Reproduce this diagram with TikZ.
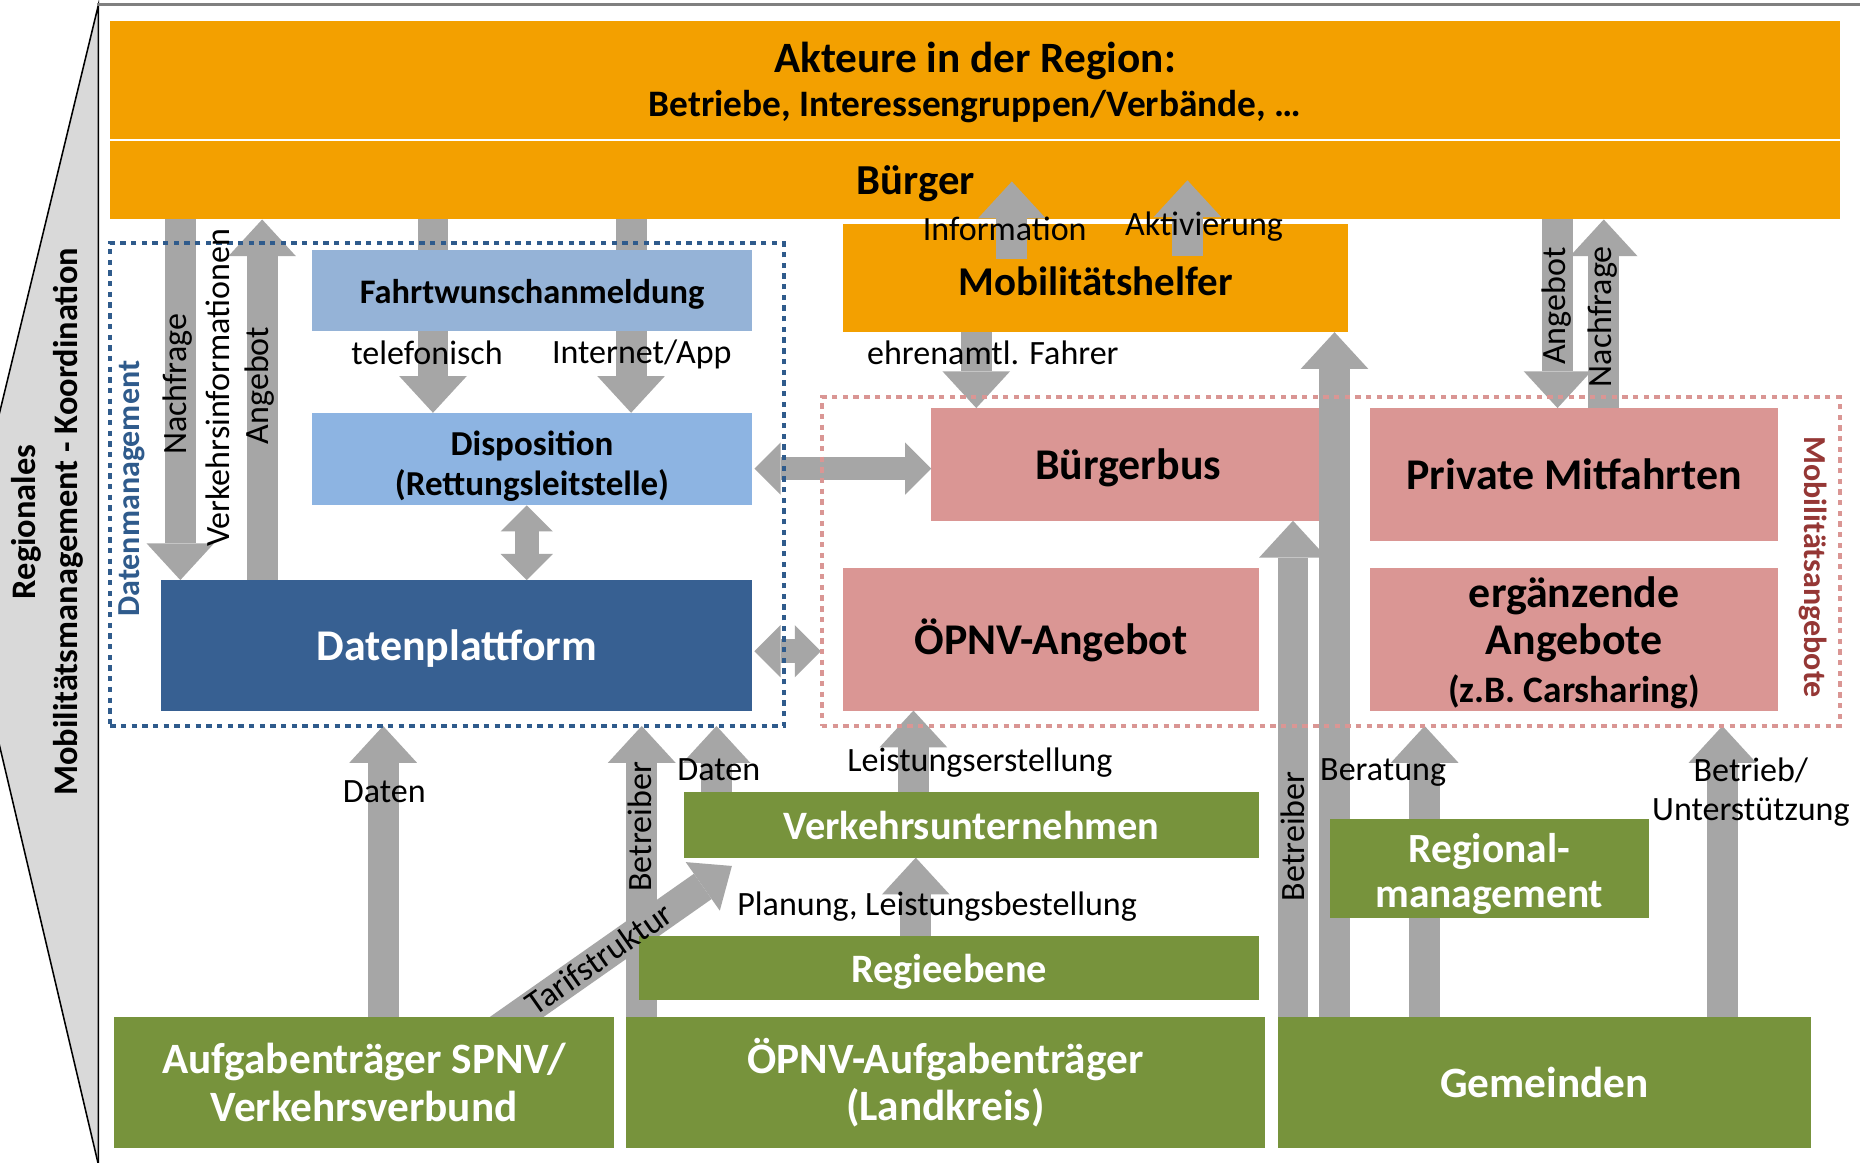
\documentclass[tikz,border=0pt]{standalone}
\usepackage{fontspec}
\setmainfont{Carlito}
\usetikzlibrary{arrows.meta,calc}
\pgfdeclarelayer{fg}
\pgfsetlayers{main,fg}
\definecolor{orng}{HTML}{F3A000}
\definecolor{lblueA}{HTML}{95B3D7}
\definecolor{lblueB}{HTML}{8DB4E2}
\definecolor{dblue}{HTML}{376092}
\definecolor{pinkc}{HTML}{DA9694}
\definecolor{greenc}{HTML}{77933C}
\definecolor{agray}{HTML}{A6A6A6}
\definecolor{dotblue}{HTML}{2F5B8C}
\definecolor{dotpink}{HTML}{DA9694}
\definecolor{darkred}{HTML}{953735}
\definecolor{sidegray}{HTML}{D9D9D9}
\definecolor{framegray}{HTML}{808080}
\begin{document}
\begin{tikzpicture}[x=1pt,y=-1pt,
  box/.style={rectangle,inner sep=0pt,outer sep=0pt,anchor=north west,align=center},
  wh/.style 2 args={minimum width=#1pt,minimum height=#2pt},
  fb/.style 2 args={font=\fontsize{#1}{#2}\selectfont\bfseries},
  lbl/.style={inner sep=0pt,font=\fontsize{28.7}{33}\selectfont},
  barrow/.style={draw=agray,line width=26pt,-{Triangle[width=57pt,length=31pt,line width=0pt]}},
  darrow/.style={draw=agray,line width=20pt,{Triangle[width=44pt,length=22pt,line width=0pt]}-{Triangle[width=44pt,length=22pt,line width=0pt]}},
  dotbox/.style={rectangle,inner sep=0pt,outer sep=0pt,anchor=north west,line width=3.5pt,dash pattern=on 4.5pt off 4.5pt}
]
\useasboundingbox (0,0) rectangle (1568,980);
\fill[white] (0,0) rectangle (1568,980);

% left side frame
\fill[sidegray] (83,4) -- (-5,367) -- (-5,609) -- (83,980) -- cycle;
\draw[line width=1.3pt] (-5,367) -- (83,4) -- (83,982);
\draw[line width=1.3pt] (-5,609) -- (83,982);
\draw[framegray,line width=2.5pt] (82,4) -- (1570,4);

% x positions of the arrows
\coordinate (cNf) at (152,0);
\coordinate (cAg) at (221,0);
\coordinate (cTel) at (365,0);
\coordinate (cWeb) at (532,0);
\coordinate (cDD) at (444,0);
\coordinate (cInfo) at (853,0);
\coordinate (cAkt) at (1001,0);
\coordinate (cEhr) at (823,0);
\coordinate (cAgR) at (1313,0);
\coordinate (cNfR) at (1352,0);
\coordinate (cDat) at (323,0);
\coordinate (cTar) at (436,0);
\coordinate (cBtr) at (541,0);
\coordinate (cDat2) at (604,0);
\coordinate (cLst) at (770,0);
\coordinate (cPlan) at (772,0);
\coordinate (cBtrR) at (1090,0);
\coordinate (cMh) at (1125,0);
\coordinate (cBer) at (1201,0);
\coordinate (cUnt) at (1452,0);
\coordinate (tarifend) at (617,730);

% boxes below the arrows
\node[box,wh={1458}{99},fill=orng] (akt) at (93,18) {};
\node[inner sep=0pt,fb={36.5}{40}] (akttitle) at (822,51) {Akteure in der Region:};
\node[inner sep=0pt,fb={31.5}{36}] (aktsub) at (822,90) {Betriebe, Interessengruppen/Verbände, …};
\node[box,wh={1458}{66},fill=orng] (bue) at (93,119) {};
\node[inner sep=0pt,fb={36}{40}] (buetxt) at (772,155) {Bürger};
\node[box,wh={425}{91},fill=orng,fb={34.5}{40}] (mh) at (711,189) {\rule{0pt}{30pt}Mobilitätshelfer};
\node[box,wh={371}{78},fill=lblueB,fb={29.5}{34}] (dispo) at (263,348) {\rule{0pt}{33pt}Disposition\\(Rettungsleitstelle)};
\node[box,wh={498}{110},fill=dblue,text=white,fb={37}{40}] (dp) at (136,489) {\rule{0pt}{32pt}Datenplattform};
\node[box,wh={332}{95},fill=pinkc,fb={37}{40}] (bb) at (785,344) {\rule{0pt}{32pt}Bürgerbus};
\node[box,wh={344}{112},fill=pinkc,fb={37}{40}] (pm) at (1155,344) {Private Mitfahrten};
\node[box,wh={350}{120},fill=pinkc,fb={37}{40}] (oa) at (711,479) {\rule{0pt}{32pt}ÖPNV-Angebot};
\node[box,wh={344}{120},fill=pinkc,fb={37}{40}] (ea) at (1155,479) {\rule{0pt}{31pt}ergänzende\\Angebote\\{\fontsize{31.5}{38}\selectfont(z.B. Carsharing)}};
\node[box,wh={484}{55},fill=greenc,text=white,fb={34}{40}] (vu) at (577,668) {Verkehrsunternehmen};

% boxes and frames above the arrows
\begin{pgfonlayer}{fg}
\node[box,wh={371}{68},fill=lblueA,fb={29}{34}] (fahrt) at (263,211) {\rule{0pt}{26pt}Fahrtwunschanmeldung};
\node[box,wh={522}{54},fill=greenc,text=white,fb={34}{40}] (re) at (539,789) {\rule{0pt}{30pt}Regieebene};
\node[box,wh={269}{84},fill=greenc,text=white,fb={35}{38}] (rm) at (1121,690) {\rule{0pt}{34pt}Regional-\\management};
\node[box,wh={422}{111},fill=greenc,text=white,fb={36.5}{40}] (spnv) at (96,857) {Aufgabenträger SPNV/\\Verkehrsverbund};
\node[box,wh={538}{111},fill=greenc,text=white,fb={36.5}{40}] (lk) at (528,857) {ÖPNV-Aufgabenträger\\(Landkreis)};
\node[box,wh={450}{111},fill=greenc,text=white,fb={36.5}{40}] (gem) at (1077,857) {Gemeinden};
\node[dotbox,draw=dotblue,wh={568}{407}] (dm) at (93,205) {};
\node[dotbox,draw=dotpink,wh={858}{277}] (ma) at (693,335) {};
\end{pgfonlayer}

% arrows
\draw[barrow] (bue.south -| cNf) -- (dp.north -| cNf);
\draw[barrow] (dp.north -| cAg) -- (bue.south -| cAg);
\draw[barrow] (bue.south -| cTel) -- (dispo.north -| cTel);
\draw[barrow] (bue.south -| cWeb) -- (dispo.north -| cWeb);
\draw[darrow] (dispo.south -| cDD) -- (dp.north -| cDD);
\draw[darrow] ($(dispo.east)+(2,8)$) -- ($(bb.west)+(0,3.5)$);
\draw[darrow] ($(dp.east)+(2,5)$) -- ($(dp.east -| ma.west)+(-1,5)$);
\draw[barrow] ($(mh.north -| cInfo)+(0,29)$) -- ($(bue.south -| cInfo)+(0,-32)$);
\draw[barrow] ($(mh.north -| cAkt)+(0,27)$) -- ($(bue.south -| cAkt)+(0,-33)$);
\draw[barrow] (mh.south -| cEhr) -- (bb.north -| cEhr);
\draw[barrow] (bue.south -| cAgR) -- (pm.north -| cAgR);
\draw[barrow] (pm.north -| cNfR) -- (bue.south -| cNfR);
\draw[barrow] (spnv.north -| cDat) -- (dm.south -| cDat);
\draw[barrow,-{Triangle[width=50pt,length=30pt,line width=0pt]}] ($(spnv.north -| cTar)!-25pt!(tarifend)$) -- (tarifend);
\draw[barrow] (lk.north -| cBtr) -- (dm.south -| cBtr);
\draw[barrow] (vu.north -| cDat2) -- (dm.south -| cDat2);
\draw[barrow] (vu.north -| cLst) -- (oa.south -| cLst);
\draw[barrow] (re.north -| cPlan) -- (vu.south -| cPlan);
\draw[barrow] (gem.north -| cBtrR) -- (bb.south -| cBtrR);
\draw[barrow] (gem.north -| cMh) -- (mh.south -| cMh);
\draw[barrow] (gem.north -| cBer) -- (ma.south -| cBer);
\draw[barrow] (gem.north -| cUnt) -- (ma.south -| cUnt);

% labels
\begin{pgfonlayer}{fg}
\node[inner sep=0pt,rotate=90,align=center,fb={29}{36}] (side) at (40,440) {Regionales\\Mobilitätsmanagement - Koordination};
\node[inner sep=0pt,rotate=90,text=dotblue,fb={27}{32}] (lDM) at (111,412) {Datenmanagement};
\node[inner sep=0pt,rotate=-90,text=darkred,fb={27}{32}] (lMA) at (1528,478) {Mobilitätsangebote};
\node[lbl,rotate=90] (lNf) at (150,324) {Nachfrage};
\node[lbl,rotate=90] (lVi) at (184,327) {Verkehrsinformationen};
\node[lbl,rotate=90] (lAg) at (219,325) {Angebot};
\node[lbl] (lTel) at (360,297) {telefonisch};
\node[lbl] (lWeb) at (541,299) {Internet/App};
\node[lbl] (lEhr) at (837,297) {ehrenamtl. Fahrer};
\node[lbl] (lInfo) at (847,193) {Information};
\node[lbl] (lAkt) at (1015,191) {Aktivierung};
\node[lbl,rotate=90] (lAgR) at (1312,258) {Angebot};
\node[lbl,rotate=90] (lNfR) at (1351,267) {Nachfrage};
\node[lbl] (lDat) at (324,667) {Daten};
\node[lbl,rotate=35] (lTar) at (505,808) {Tarifstruktur};
\node[lbl,rotate=90] (lBtr) at (539,697) {Betreiber};
\node[lbl] (lDat2) at (606,649) {Daten};
\node[lbl] (lLst) at (826,643) {Leistungserstellung};
\node[lbl] (lPlan) at (790,764) {Planung, Leistungsbestellung};
\node[lbl,rotate=90] (lBtrR) at (1090,705) {Betreiber};
\node[lbl] (lBer) at (1166,651) {Beratung};
\node[lbl,align=center] (lUnt) at (1476,668) {Betrieb/\\Unterstützung};
\end{pgfonlayer}
\end{tikzpicture}
\end{document}
